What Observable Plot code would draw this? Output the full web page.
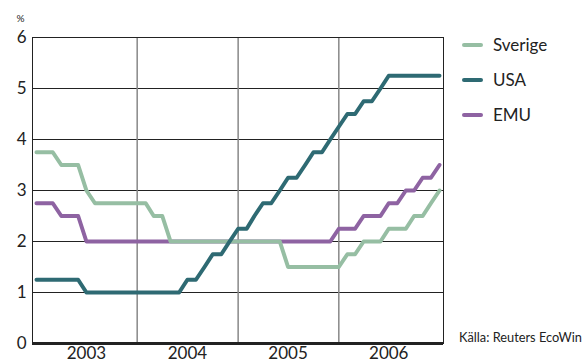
<!DOCTYPE html>
<html>
<head>
<meta charset="utf-8">
<script src="https://cdn.jsdelivr.net/npm/d3@7"></script>
<script src="https://cdn.jsdelivr.net/npm/@observablehq/plot@0.6"></script>
<style>
  body { margin: 0; background: #fff; }
  #wrap { position: relative; width: 588px; height: 363px; font-family: Lato, "Open Sans", sans-serif; color: #222; overflow: hidden; }
  #legend { position: absolute; left: 462px; top: 27px; font-size: 17px; }
  .item { display: flex; align-items: center; height: 35px; }
  .sw { width: 21px; height: 4px; border-radius: 2px; margin-right: 10px; }
  #source { position: absolute; left: 459px; top: 329px; font-size: 12.8px; white-space: nowrap; }
</style>
</head>
<body>
<div id="wrap">
  <div id="chart"></div>
  <div id="legend"></div>
  <div id="source">Källa: Reuters EcoWin</div>
</div>
<script>
// Monthly observations, first of each month, Jan 2003 – Jan 2007
const months = d3.utcMonth.range(new Date(Date.UTC(2003, 0, 1)), new Date(Date.UTC(2007, 1, 1)));

const sverige = [
  3.75, 3.75, 3.75, 3.5, 3.5, 3.5, 3.0, 2.75, 2.75, 2.75, 2.75, 2.75,
  2.75, 2.75, 2.5, 2.5, 2.0, 2.0, 2.0, 2.0, 2.0, 2.0, 2.0, 2.0,
  2.0, 2.0, 2.0, 2.0, 2.0, 2.0, 1.5, 1.5, 1.5, 1.5, 1.5, 1.5,
  1.5, 1.75, 1.75, 2.0, 2.0, 2.0, 2.25, 2.25, 2.25, 2.5, 2.5, 2.75,
  3.0
];
const usa = [
  1.25, 1.25, 1.25, 1.25, 1.25, 1.25, 1.0, 1.0, 1.0, 1.0, 1.0, 1.0,
  1.0, 1.0, 1.0, 1.0, 1.0, 1.0, 1.25, 1.25, 1.5, 1.75, 1.75, 2.0,
  2.25, 2.25, 2.5, 2.75, 2.75, 3.0, 3.25, 3.25, 3.5, 3.75, 3.75, 4.0,
  4.25, 4.5, 4.5, 4.75, 4.75, 5.0, 5.25, 5.25, 5.25, 5.25, 5.25, 5.25,
  5.25
];
const emu = [
  2.75, 2.75, 2.75, 2.5, 2.5, 2.5, 2.0, 2.0, 2.0, 2.0, 2.0, 2.0,
  2.0, 2.0, 2.0, 2.0, 2.0, 2.0, 2.0, 2.0, 2.0, 2.0, 2.0, 2.0,
  2.0, 2.0, 2.0, 2.0, 2.0, 2.0, 2.0, 2.0, 2.0, 2.0, 2.0, 2.0,
  2.25, 2.25, 2.25, 2.5, 2.5, 2.5, 2.75, 2.75, 3.0, 3.0, 3.25, 3.25,
  3.5
];

const seriesNames = ["Sverige", "USA", "EMU"];
const seriesColors = ["#96bea3", "#2e6a73", "#8e63a2"];
const yTicks = [0, 1, 2, 3, 4, 5, 6];
const gridY = [1, 2, 3, 4, 5];
const yearStarts = ["2004-01-01", "2005-01-01", "2006-01-01"].map(d => new Date(d));
const yearLabelDates = ["2003-07-01", "2004-07-01", "2005-07-01", "2006-07-01"].map(d => new Date(d));

const toRows = (vals) => vals.map((v, i) => ({date: months[i], value: v}));
const color = Object.fromEntries(seriesNames.map((n, i) => [n, seriesColors[i]]));

const chart = Plot.plot({
  width: 588,
  height: 363,
  marginLeft: 32,
  marginRight: 145,
  marginTop: 37,
  marginBottom: 20,
  style: {fontFamily: "Lato, 'Open Sans', sans-serif", color: "#222", background: "#fff"},
  x: {type: "utc", domain: [new Date("2003-01-01"), new Date("2007-01-01")], insetLeft: 4, insetRight: 4},
  y: {domain: [0, 6]},
  marks: [
    Plot.ruleY(gridY, {stroke: "#222", strokeWidth: 1}),
    Plot.ruleX(yearStarts, {stroke: "#888", strokeWidth: 1.5}),
    Plot.frame({stroke: "#222", strokeWidth: 1}),
    Plot.ruleY([0], {stroke: "#222", strokeWidth: 3}),
    Plot.lineY(toRows(emu), {x: "date", y: "value", stroke: color.EMU, strokeWidth: 4, strokeLinecap: "round", strokeLinejoin: "round"}),
    Plot.lineY(toRows(sverige), {x: "date", y: "value", stroke: color.Sverige, strokeWidth: 4, strokeLinecap: "round", strokeLinejoin: "round"}),
    Plot.lineY(toRows(usa), {x: "date", y: "value", stroke: color.USA, strokeWidth: 4, strokeLinecap: "round", strokeLinejoin: "round"}),
    Plot.axisY({ticks: yTicks, tickSize: 0, tickPadding: 6, fontSize: 17, label: null, tickFormat: d => String(d)}),
    Plot.axisX({ticks: yearLabelDates, tickSize: 0, tickPadding: 3, fontSize: 17, label: null, tickFormat: d3.utcFormat("%Y")}),
    Plot.text(["%"], {frameAnchor: "top-left", dx: -12, dy: -23, fontSize: 10, textAnchor: "middle"})
  ]
});
document.getElementById("chart").appendChild(chart);

const legend = document.getElementById("legend");
seriesNames.forEach((n, i) => {
  const item = document.createElement("div");
  item.className = "item";
  item.innerHTML = `<span class="sw" style="background:${seriesColors[i]}"></span><span>${n}</span>`;
  legend.appendChild(item);
});
</script>
</body>
</html>
